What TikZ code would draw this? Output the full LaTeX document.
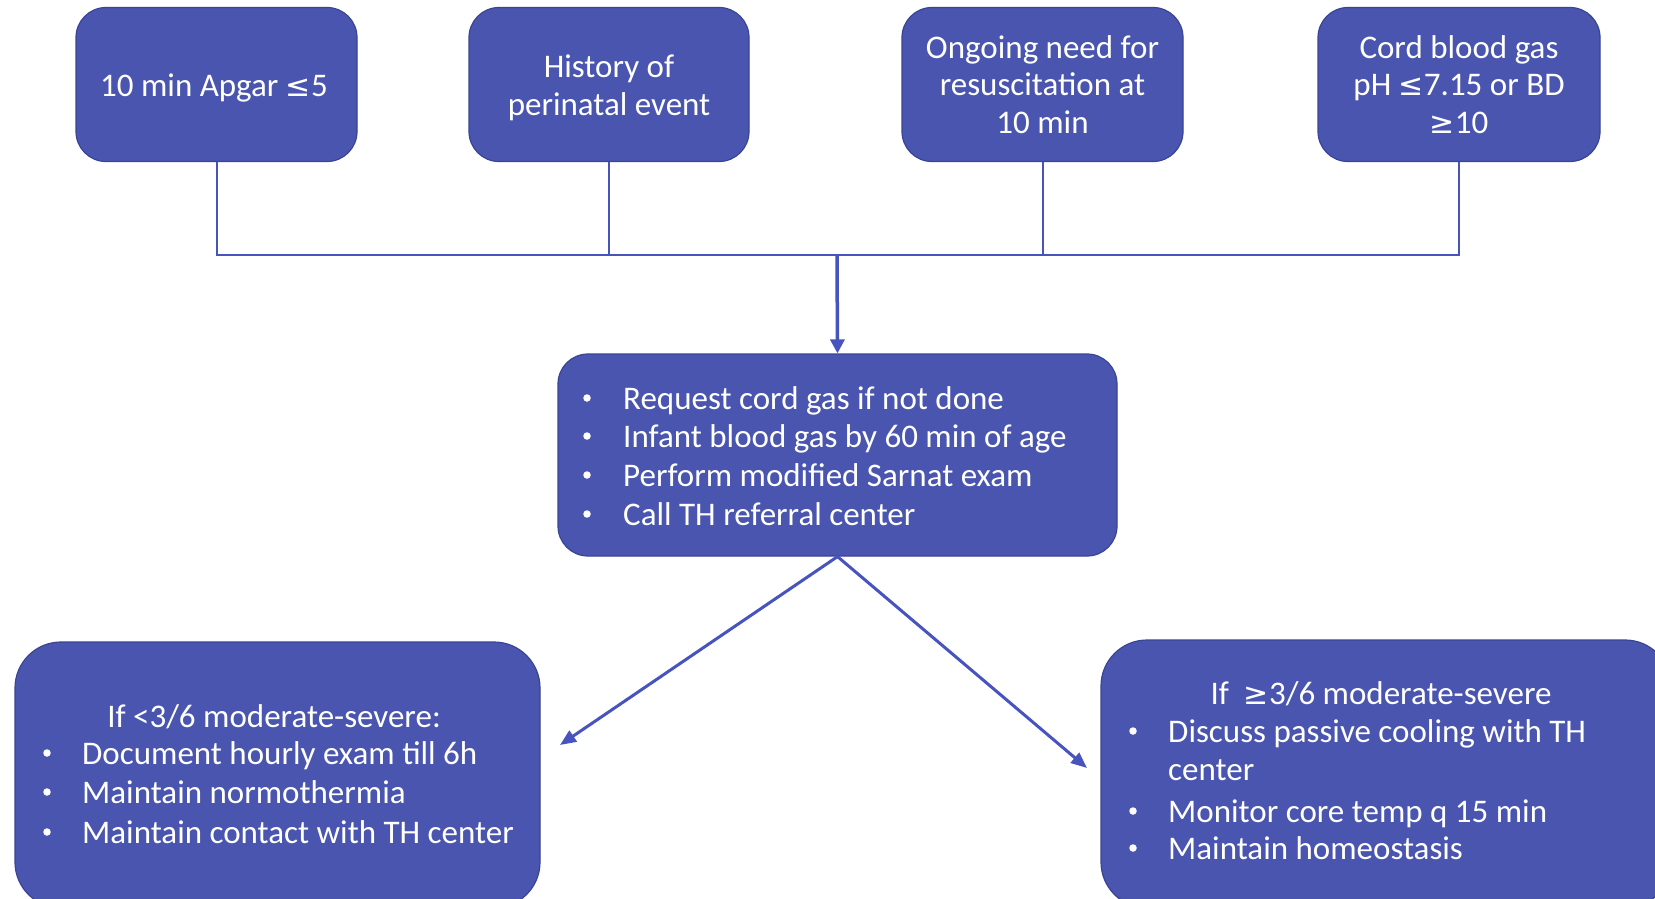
\documentclass[tikz,border=0pt]{standalone}
\usepackage{fontspec}
\setmainfont{Carlito}
\newfontfamily\symfont{DejaVu Sans}
\newcommand{\mle}{{\symfont\fontsize{30}{30}\selectfont ≤}}
\newcommand{\mge}{{\symfont\fontsize{30}{30}\selectfont ≥}}
\usetikzlibrary{arrows.meta}
\definecolor{boxfill}{RGB}{74,85,175}
\definecolor{boxedge}{RGB}{58,68,148}
\definecolor{linec}{RGB}{72,84,190}
\begin{document}
\begin{tikzpicture}[x=1pt,y=-1pt,
 box/.style={draw=boxedge, line width=1.2pt, fill=boxfill, rounded corners=30pt, text=white, align=center, inner sep=0pt, font=\fontsize{33}{37.5}\selectfont},
 bigbox/.style={box, rounded corners=46pt},
 txt/.style={text=white, inner sep=0pt, anchor=base west, font=\fontsize{33}{37.5}\selectfont},
 ctxt/.style={txt, anchor=base},
 ttxt/.style={text=white, inner sep=0pt, align=center, font=\fontsize{33}{37.5}\selectfont},
 bul/.style={circle, fill=white, inner sep=0pt, minimum size=7.5pt},
 conn/.style={draw=linec, line width=2pt},
 arr/.style={draw=linec, line width=3pt, -{Triangle[length=16pt,width=13pt]}},
]
\useasboundingbox (0,0) rectangle (1655,898);
\clip (0,0) rectangle (1655,898);
\fill[white] (0,0) rectangle (1655,898);

% top boxes
\node[box, minimum width=281pt, minimum height=154pt] (b1) at (216.5,84.5) {};
\node[ttxt] (t1) at (214,88) {10 min Apgar \mle5};
\node[box, minimum width=280pt, minimum height=154pt] (b2) at (609,84.5) {};
\node[ttxt] (t2) at (609,88) {History of\\perinatal event};
\node[box, minimum width=281pt, minimum height=154pt] (b3) at (1042.5,84.5) {Ongoing need for\\resuscitation at\\10 min};
\node[box, minimum width=282pt, minimum height=154pt] (b4) at (1459,84.5) {Cord blood gas\\pH \mle7.15 or BD\\\mge10};

% junction
\coordinate (j) at (837,255);
\draw[conn] (b1.south) |- (j) -| (b4.south);
\draw[conn] (b2.south) -- (b2.south |- j);
\draw[conn] (b3.south) -- (b3.south |- j);

% middle box
\node[box, minimum width=559pt, minimum height=202pt] (mid) at (837.5,455) {};
\draw[arr, line width=3.5pt, -{Triangle[length=14pt,width=14pt]}] (j) -- (mid.north);
\node[bul] (m1b) at (587,398) {};
\node[txt] (m1) at (623,409) {Request cord gas if not done};
\node[bul] (m2b) at (587,436) {};
\node[txt] (m2) at (623,447) {Infant blood gas by 60 min of age};
\node[bul] (m3b) at (587,475) {};
\node[txt] (m3) at (623,486) {Perform modified Sarnat exam};
\node[bul] (m4b) at (587,514) {};
\node[txt] (m4) at (623,525) {Call TH referral center};

% bottom boxes
\node[bigbox, minimum width=525pt, minimum height=266pt] (bl) at (277.5,775) {};
\node[bigbox, minimum width=570pt, minimum height=268pt] (br) at (1386,774) {};

\coordinate (tipL) at (560,745);
\coordinate (tipR) at (1087,768);
\draw[arr] (mid.south) -- (tipL);
\draw[arr] (mid.south) -- (tipR);

% bottom-left text
\node[ctxt] (l0) at (274,727) {If <3/6 moderate-severe:};
\node[bul] (l1b) at (47,753) {};
\node[txt] (l1) at (82,764) {Document hourly exam till 6h};
\node[bul] (l2b) at (47,792) {};
\node[txt] (l2) at (82,803) {Maintain normothermia};
\node[bul] (l3b) at (47,832) {};
\node[txt] (l3) at (82,843) {Maintain contact with TH center};

% bottom-right text
\node[ctxt] (r0) at (1381,704) {If\ \ \mge3/6 moderate-severe};
\node[bul] (r1b) at (1133,731) {};
\node[txt] (r1) at (1168,742) {Discuss passive cooling with TH};
\node[txt] (r1c) at (1168,780) {center};
\node[bul] (r2b) at (1133,811) {};
\node[txt] (r2) at (1168,822) {Monitor core temp q 15 min};
\node[bul] (r3b) at (1133,848) {};
\node[txt] (r3) at (1168,859) {Maintain homeostasis};
\end{tikzpicture}
\end{document}
